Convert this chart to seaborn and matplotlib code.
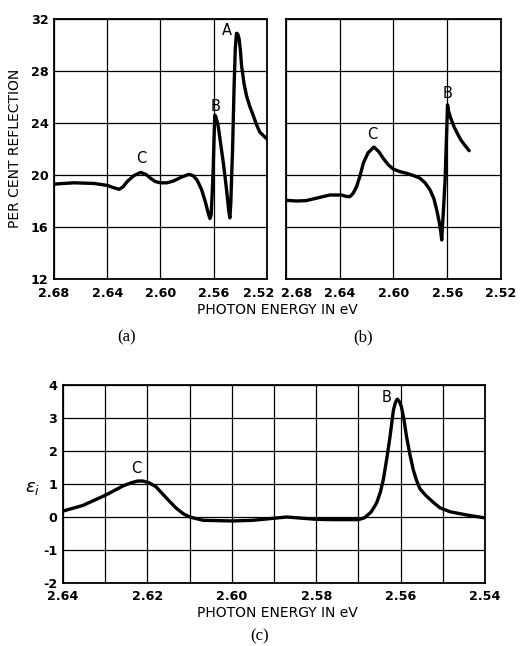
import matplotlib
matplotlib.use("Agg")
import matplotlib.pyplot as plt
import matplotlib.transforms as mtrans
import seaborn as sns
import pandas as pd

# ---------------- data ----------------
# Panel (a): per cent reflection vs photon energy (eV)
a_energy = [2.680, 2.665, 2.650, 2.640, 2.636, 2.631, 2.628, 2.625, 2.620, 2.615,
            2.611, 2.6075, 2.604, 2.600, 2.595, 2.590, 2.584, 2.5787, 2.5755, 2.5725,
            2.5692, 2.5662, 2.5645, 2.5629, 2.5620, 2.5612, 2.5604, 2.5598, 2.5592, 2.5585,
            2.5567, 2.5548, 2.5529, 2.5512, 2.5499, 2.5488, 2.5479, 2.5472, 2.5466, 2.5459,
            2.5447, 2.5438, 2.5429, 2.5420, 2.5410, 2.5400, 2.5391, 2.5372, 2.5354, 2.5330,
            2.5304, 2.5280, 2.5254, 2.5204]
a_refl = [19.3, 19.4, 19.35, 19.2, 19.05, 18.9, 19.1, 19.5, 19.95, 20.2,
          20.05, 19.75, 19.5, 19.4, 19.4, 19.55, 19.85, 20.05, 19.95, 19.6,
          18.9, 17.9, 17.2, 16.65, 16.9, 18.5, 20.5, 22.8, 24.6, 24.5,
          23.8, 22.4, 21.0, 19.6, 18.4, 17.3, 16.7, 17.8, 19.8, 21.8,
          26.9, 29.8, 30.9, 30.85, 30.5, 29.6, 28.4, 27.0, 26.1, 25.3,
          24.6, 23.9, 23.3, 22.8]

# Panel (b)
b_energy = [2.680, 2.672, 2.665, 2.658, 2.6475, 2.6387, 2.6350, 2.6325, 2.6300, 2.6275,
            2.6250, 2.6225, 2.6190, 2.6146, 2.6110, 2.6076, 2.6040, 2.6001, 2.5950, 2.5902,
            2.5850, 2.5803, 2.5765, 2.5728, 2.5700, 2.5678, 2.5660, 2.5648, 2.5641, 2.5616,
            2.5598, 2.5590, 2.5575, 2.5549, 2.5520, 2.5499, 2.5470, 2.5437]
b_refl = [18.05, 18.0, 18.03, 18.2, 18.46, 18.46, 18.35, 18.33, 18.6, 19.1,
          19.9, 20.9, 21.7, 22.15, 21.8, 21.28, 20.8, 20.45, 20.25, 20.13,
          19.95, 19.75, 19.4, 18.85, 18.2, 17.3, 16.4, 15.6, 15.0, 19.6,
          25.4, 24.9, 24.4, 23.7, 23.1, 22.7, 22.3, 21.87]

# Panel (c): epsilon_i
c_energy = [2.640, 2.6353, 2.6298, 2.6258, 2.6240, 2.6223, 2.6210, 2.6195, 2.6180, 2.6164,
            2.6148, 2.6132, 2.6115, 2.6100, 2.6068, 2.6000, 2.5950, 2.5918, 2.5870, 2.5840,
            2.5800, 2.5760, 2.5700, 2.5685, 2.5670, 2.5657, 2.5648, 2.5641, 2.5633, 2.5625,
            2.5617, 2.5612, 2.5608, 2.5603, 2.5598, 2.5592, 2.5586, 2.5578, 2.5570, 2.5562,
            2.5554, 2.5540, 2.5523, 2.5507, 2.5483, 2.5443, 2.5404]
c_eps = [0.18, 0.35, 0.67, 0.94, 1.03, 1.09, 1.09, 1.03, 0.92, 0.70,
         0.48, 0.27, 0.10, 0.0, -0.10, -0.12, -0.10, -0.06, 0.0, -0.03,
         -0.07, -0.08, -0.08, -0.02, 0.15, 0.42, 0.75, 1.13, 1.75, 2.44,
         3.24, 3.48, 3.57, 3.50, 3.34, 2.95, 2.44, 1.90, 1.43, 1.10,
         0.85, 0.65, 0.45, 0.28, 0.16, 0.06, -0.02]

ab_xticks = [2.68, 2.64, 2.60, 2.56, 2.52]
ab_xticklabels = ["2.68", "2.64", "2.60", "2.56", "2.52"]
ab_yticks = [12, 16, 20, 24, 28, 32]
ab_yticklabels = ["12", "16", "20", "24", "28", "32"]
c_xgrid = [2.64, 2.63, 2.62, 2.61, 2.60, 2.59, 2.58, 2.57, 2.56, 2.55, 2.54]
c_xticklabels = ["2.64", "", "2.62", "", "2.60", "", "2.58", "", "2.56", "", "2.54"]
c_yticks = [-2, -1, 0, 1, 2, 3, 4]
c_yticklabels = ["-2", "-1", "0", "1", "2", "3", "4"]

a_labels = [("A", 2.5505, 31.1), ("B", 2.5584, 25.3), ("C", 2.6142, 21.3)]
b_labels = [("C", 2.6158, 23.15), ("B", 2.5594, 26.3)]
c_labels = [("C", 2.6226, 1.48), ("B", 2.5633, 3.62)]

# ---------------- style ----------------
sns.set_style("white")
plt.rcParams["font.family"] = ["DejaVu Sans"]
for k in ("text.color", "axes.labelcolor", "xtick.color", "ytick.color"):
    plt.rcParams[k] = "black"

W, H = 520, 646
fig = plt.figure(figsize=(W / 100, H / 100), dpi=100)

def px_axes(left, top, right, bottom):
    return fig.add_axes([left / W, 1 - bottom / H, (right - left) / W, (bottom - top) / H])

tick_font = dict(fontsize=9.2, fontweight="bold")
lab_font = dict(fontsize=10)

def style_axes(ax, xpad=6.0):
    ax.grid(True, color="black", lw=0.9)
    ax.set_axisbelow(True)
    for s in ax.spines.values():
        s.set_color("black")
        s.set_linewidth(1.3)
        s.set_visible(True)
    ax.tick_params(length=0)
    ax.tick_params(axis="x", pad=xpad)
    ax.tick_params(axis="y", pad=4)
    ax.set_xlabel("")
    ax.set_ylabel("")

ax_a = px_axes(54, 19, 267, 279)
ax_b = px_axes(286, 19, 501, 279)
ax_c = px_axes(63, 385, 485, 583)

lw = 2.4
sns.lineplot(data=pd.DataFrame({"e": a_energy, "r": a_refl}), x="e", y="r", ax=ax_a,
             color="black", lw=lw, sort=False, estimator=None)
sns.lineplot(data=pd.DataFrame({"e": b_energy, "r": b_refl}), x="e", y="r", ax=ax_b,
             color="black", lw=lw, sort=False, estimator=None)
sns.lineplot(data=pd.DataFrame({"e": c_energy, "eps": c_eps}), x="e", y="eps", ax=ax_c,
             color="black", lw=lw, sort=False, estimator=None)

for ax in (ax_a, ax_b):
    ax.set_xlim(2.68, 2.52)
    ax.set_ylim(12, 32)
    ax.set_xticks(ab_xticks)
    ax.set_xticklabels(ab_xticklabels, **tick_font)
    ax.set_yticks(ab_yticks)
    style_axes(ax)
ax_a.set_yticklabels(ab_yticklabels, **tick_font)
ax_b.set_yticklabels([])

# nudge the crowded labels at the panel join, as in the original
lab = ax_a.get_xticklabels()[-1]
lab.set_transform(lab.get_transform() + mtrans.ScaledTranslation(-8 / 100, 0, fig.dpi_scale_trans))
lab = ax_b.get_xticklabels()[0]
lab.set_transform(lab.get_transform() + mtrans.ScaledTranslation(11 / 100, 0, fig.dpi_scale_trans))

ax_c.set_xlim(2.64, 2.54)
ax_c.set_ylim(-2, 4)
ax_c.set_xticks(c_xgrid)
ax_c.set_xticklabels(c_xticklabels, **tick_font)
ax_c.set_yticks(c_yticks)
ax_c.set_yticklabels(c_yticklabels, **tick_font)
style_axes(ax_c, xpad=5)

for ax, labs in ((ax_a, a_labels), (ax_b, b_labels), (ax_c, c_labels)):
    for t, x, y in labs:
        ax.text(x, y, t, ha="center", va="center", fontsize=10.5)

fig.text(15 / W, 1 - 148 / H, "PER CENT REFLECTION", rotation=90, ha="center", va="center",
         **lab_font)
fig.text(277 / W, 1 - 310 / H, "PHOTON ENERGY IN eV", ha="center", va="center", **lab_font)
fig.text(277 / W, 1 - 613 / H, "PHOTON ENERGY IN eV", ha="center", va="center", **lab_font)
serif = dict(ha="center", va="center", fontsize=12, family=["Liberation Serif", "DejaVu Serif"])
fig.text(127 / W, 1 - 337 / H, "(a)", **serif)
fig.text(363 / W, 1 - 337 / H, "(b)", **serif)
fig.text(260 / W, 1 - 636 / H, "(c)", **serif)
fig.text(33 / W, 1 - 488 / H, r"$\epsilon_i$", ha="center", va="center", fontsize=13)

fig.savefig("out.png", dpi=100, facecolor="white")
